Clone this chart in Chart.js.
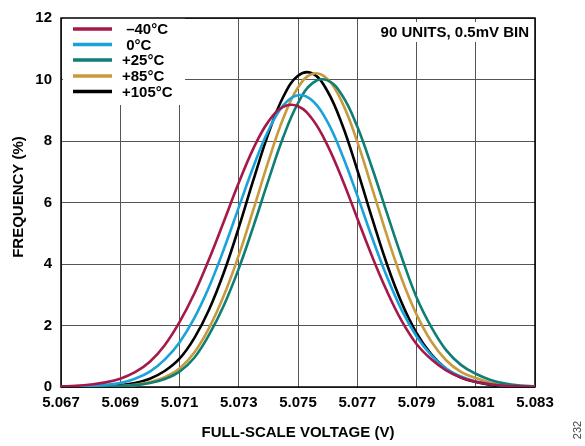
<!DOCTYPE html>
<html>
<head>
<meta charset="utf-8">
<script src="https://cdn.jsdelivr.net/npm/chart.js@4/dist/chart.umd.min.js"></script>
<style>
	html, body { margin: 0; padding: 0; background: #fff; }
	#wrap { width: 585px; height: 446px; }
</style>
</head>
<body>
<div id="wrap"><canvas id="fsChart" width="585" height="446"></canvas></div>
<script>
//full-scale voltage (V), 0.5mV bins
const voltage = [5.0670, 5.0675, 5.0680, 5.0685, 5.0690, 5.0695, 5.0700, 5.0705, 5.0710, 5.0715, 5.0720,
	5.0725, 5.0730, 5.0735, 5.0740, 5.0745, 5.0750, 5.0755, 5.0760, 5.0765, 5.0770, 5.0775,
	5.0780, 5.0785, 5.0790, 5.0795, 5.0800, 5.0805, 5.0810, 5.0815, 5.0820, 5.0825, 5.0830];
//frequency (%) per temperature
const freqM40 = [0.02, 0.04, 0.08, 0.15, 0.27, 0.48, 0.82, 1.36, 2.11, 3.04, 4.16, 5.39, 6.64, 7.77, 8.63, 9.11,
	9.13, 8.69, 7.85, 6.74, 5.49, 4.25, 3.12, 2.15, 1.40, 0.90, 0.54, 0.31, 0.17, 0.09, 0.04, 0.02, 0.01];
const freq0 = [0.01, 0.02, 0.04, 0.07, 0.13, 0.27, 0.50, 0.89, 1.45, 2.24, 3.26, 4.49, 5.84, 7.18, 8.34, 9.16,
	9.49, 9.30, 8.61, 7.53, 6.23, 4.86, 3.59, 2.50, 1.65, 1.03, 0.60, 0.34, 0.18, 0.09, 0.04, 0.02, 0.01];
const freq25 = [0.00, 0.00, 0.01, 0.01, 0.03, 0.06, 0.13, 0.26, 0.50, 0.95, 1.70, 2.66, 3.85, 5.24, 6.72, 8.12,
	9.23, 9.89, 9.97, 9.47, 8.47, 7.13, 5.66, 4.22, 2.92, 1.95, 1.20, 0.72, 0.43, 0.23, 0.11, 0.05, 0.02];
const freq85 = [0.00, 0.00, 0.01, 0.01, 0.03, 0.07, 0.16, 0.32, 0.60, 1.12, 1.92, 2.98, 4.28, 5.79, 7.34, 8.73,
	9.74, 10.19, 10.01, 9.23, 7.98, 6.47, 4.93, 3.52, 2.36, 1.48, 0.87, 0.49, 0.29, 0.14, 0.06, 0.02, 0.01];
const freq105 = [0.00, 0.00, 0.01, 0.03, 0.06, 0.13, 0.27, 0.52, 0.92, 1.59, 2.52, 3.73, 5.18, 6.75, 8.24, 9.43,
	10.12, 10.19, 9.61, 8.51, 7.06, 5.49, 4.00, 2.74, 1.76, 1.06, 0.59, 0.31, 0.16, 0.07, 0.03, 0.01, 0.00];

const seriesLabels = [' –40°C', ' 0°C', '+25°C', '+85°C', '+105°C'];
const seriesColors = ['#A4194A', '#1AA3DA', '#0F7E74', '#C99A3C', '#000000'];
const seriesData = [freqM40, freq0, freq25, freq85, freq105];

const xTicks = [5.067, 5.069, 5.071, 5.073, 5.075, 5.077, 5.079, 5.081, 5.083];
const yTicks = [0, 2, 4, 6, 8, 10, 12];

const FONT = '"Liberation Sans", Arial, Helvetica, sans-serif';

//datasets: one line per temperature
let datasets = seriesData.map(function(vals, i){
	return {
		label: seriesLabels[i],
		data: vals.map(function(v, k){ return { x: voltage[k], y: v }; }),
		borderColor: seriesColors[i],
		borderWidth: 2.6,
		pointRadius: 0,
		tension: 0.4,
		fill: false
	};
});

//frame + legend + texts drawn by hand
const decorPlugin = {
	id: 'decor',
	beforeDatasetsDraw: function(chart){
		const c = chart.ctx, a = chart.chartArea;
		c.save();
		//legend box background hides the grid
		c.fillStyle = '#fff';
		c.fillRect(a.left + 2, 15, 122, 90);
		//note background
		c.fillRect(370, 22, 161, 20);
		//plot frame
		c.strokeStyle = '#000';
		c.lineWidth = 1.5;
		c.strokeRect(a.left, a.top, a.right - a.left, a.bottom - a.top);
		c.restore();
	},
	afterDraw: function(chart){
		const c = chart.ctx, a = chart.chartArea;
		c.save();
		c.font = 'bold 15px ' + FONT;
		c.fillStyle = '#000';
		//legend
		c.textBaseline = 'middle';
		c.textAlign = 'left';
		const rows = [29, 44.5, 60, 76, 91.5];
		for (let i = 0; i < seriesLabels.length; i++){
			c.strokeStyle = seriesColors[i];
			c.lineWidth = 3.5;
			c.beginPath();
			c.moveTo(73, rows[i]);
			c.lineTo(112, rows[i]);
			c.stroke();
			c.fillText(seriesLabels[i], 122, rows[i] + 1);
		}
		//note top right
		c.textAlign = 'right';
		c.fillText('90 UNITS, 0.5mV BIN', 529, 33);
		//x title
		c.textAlign = 'center';
		c.fillText('FULL-SCALE VOLTAGE (V)', 298, 433);
		//y title
		c.save();
		c.translate(19, 197);
		c.rotate(-Math.PI / 2);
		c.fillText('FREQUENCY (%)', 0, 0);
		c.restore();
		//figure number
		c.save();
		c.font = '11px ' + FONT;
		c.fillStyle = '#444';
		c.translate(578, 430);
		c.rotate(-Math.PI / 2);
		c.fillText('232', 0, 0);
		c.restore();
		c.restore();
	}
};

const ctx = document.getElementById('fsChart');
const chart = new Chart(ctx, {
	type: 'line',
	data: { datasets: datasets },
	options: {
		responsive: false,
		animation: false,
		layout: { padding: { left: 0, top: 8, right: 50, bottom: 0 } },
		plugins: { legend: { display: false }, tooltip: { enabled: false } },
		scales: {
			x: {
				type: 'linear',
				min: xTicks[0],
				max: xTicks[xTicks.length - 1],
				afterFit: function(s){ s.height = 59; },
				afterBuildTicks: function(s){ s.ticks = xTicks.map(function(v){ return { value: v }; }); },
				ticks: {
					padding: 7,
					color: '#000',
					font: { family: FONT, size: 15, weight: 'bold' },
					maxRotation: 0,
					callback: function(v){ return Number(v).toFixed(3); }
				},
				grid: { color: '#555', lineWidth: 1, drawTicks: false },
				border: { display: false }
			},
			y: {
				min: 0,
				max: 12,
				afterFit: function(s){ s.width = 61; },
				afterBuildTicks: function(s){ s.ticks = yTicks.map(function(v){ return { value: v }; }); },
				ticks: {
					padding: 9,
					color: '#000',
					font: { family: FONT, size: 15, weight: 'bold' }
				},
				grid: { color: '#555', lineWidth: 1, drawTicks: false },
				border: { display: false }
			}
		}
	},
	plugins: [decorPlugin]
});
</script>
</body>
</html>
